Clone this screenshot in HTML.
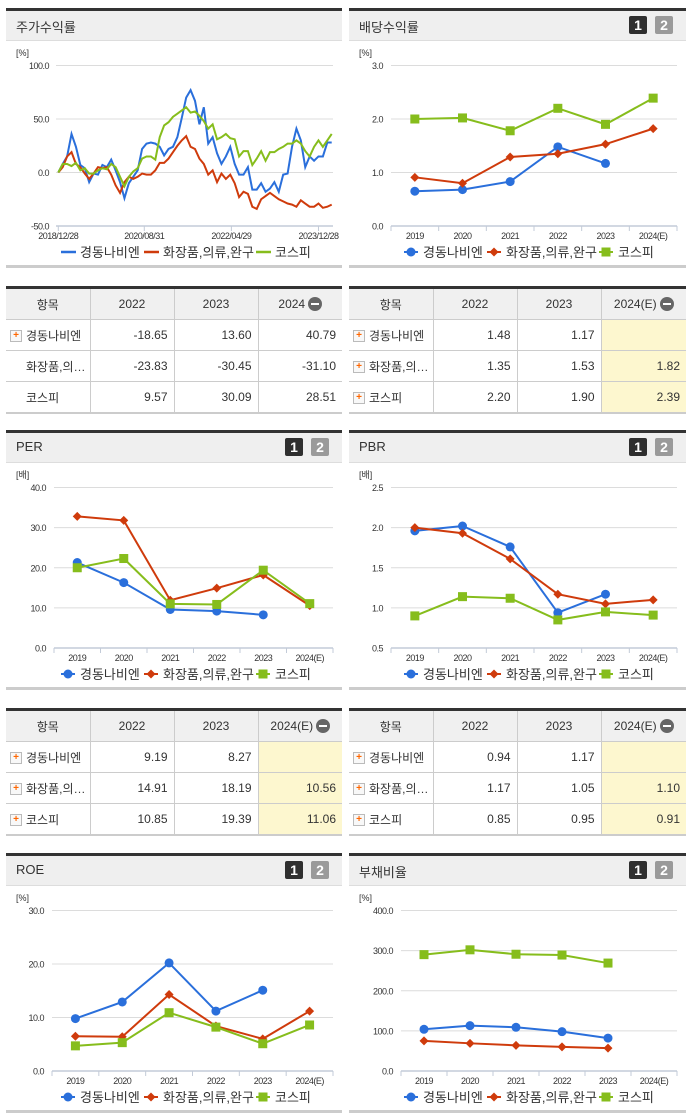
<!DOCTYPE html>
<html><head><meta charset="utf-8">
<style>
html,body{margin:0;padding:0;background:#fff;}
body{width:691px;height:1115px;position:relative;overflow:hidden;font-family:"Liberation Sans","Noto Sans CJK KR",sans-serif;color:#333;}
.panel{position:absolute;border-top:3px solid #333;box-sizing:border-box;}
.hdr{position:absolute;left:0;right:0;top:0;height:29px;background:#efefef;border-bottom:1px solid #ddd;}
.title{position:absolute;left:10px;top:6px;font-size:13px;color:#333;}
.badge{position:absolute;top:5px;width:18px;height:18px;color:#fff;font-weight:bold;font-size:14px;text-align:center;line-height:18px;border-radius:2px;}
.bline{position:absolute;left:0;right:0;height:3px;background:#ccc;}
.tbl{position:absolute;border-collapse:collapse;font-size:12px;table-layout:fixed;border-top:3px solid #333;border-bottom:2px solid #ccc;}
.tbl td{height:30px;border-right:1px solid #ccc;border-bottom:1px solid #ccc;padding:0 6px;text-align:right;white-space:nowrap;overflow:hidden;}
.tbl td:last-child{border-right:none;}
.tbl tr:last-child td{border-bottom:none;}
.tbl tr.h td{background:#f0f0f0;text-align:center;height:30px;}
.tbl td.n{text-align:left;padding-left:4px;}
.tbl td.y{background:#fdf7cf;}
.plus{display:inline-block;width:10px;height:10px;border:1px solid #bbb;background:#f8f8f8;color:#f60;font-size:10px;line-height:10px;text-align:center;font-weight:bold;vertical-align:middle;margin-right:4px;}
.minus{display:inline-block;width:14px;height:14px;border-radius:7px;background:#666;vertical-align:middle;position:relative;margin-left:3px;}
.minus:after{content:"";position:absolute;left:3px;top:6px;width:8px;height:2px;background:#fff;}
svg text{font-family:"Liberation Sans","Noto Sans CJK KR",sans-serif;}
</style></head><body>
<div id="root"></div>
<script>
// ---------- data ----------
const stockSeriesNames = ["경동나비엔","화장품,의류,완구","코스피"];
const stockTickLabels = ["2018/12/28","2020/08/31","2022/04/29","2023/12/28"];
const stockTickIndex = [0,19.5,39.25,59];
const stockBlue = [0,8,15,36,24,7,4,-9,-1,-2,7,5,12,2,-9,-24,-10,-4,2,22,27,28,27,24,16,22,24,33,51,70,77,67,45,61,27,33,18,8,15,24,8,-2,-2,5,-16,-16,-10,-18,-15,-9,-18,-2,-1,24,41,30,5,15,11,15,15,28,28];
const stockRed = [0,5,15,19,8,5,-1,-6,-1,5,4,5,-2,-12,-19,-9,-4,-6,-4,-1,-2,-2,2,9,9,13,19,25,30,34,24,22,13,8,-2,2,-9,-1,-6,-2,-10,-23,-18,-20,-32,-34,-25,-22,-19,-22,-25,-27,-29,-30,-32,-26,-29,-32,-32,-29,-33,-32,-30];
const stockGreen = [0,8,8,6,9,2,4,-1,-1,2,4,3,8,5,-4,-13,-4,1,4,13,15,15,12,33,44,47,52,55,58,61,56,57,53,48,41,45,31,33,36,32,31,15,20,20,7,13,20,11,19,19,22,24,27,27,30,27,20,15,24,30,24,30,36];
const years = ["2019","2020","2021","2022","2023","2024(E)"];
const divBlue = [0.65,0.68,0.83,1.48,1.17,null];
const divRed = [0.91,0.80,1.29,1.35,1.53,1.82];
const divGreen = [2.00,2.02,1.78,2.20,1.90,2.39];
const perBlue = [21.3,16.3,9.6,9.19,8.27,null];
const perRed = [32.8,31.8,11.9,14.91,18.19,10.56];
const perGreen = [20.0,22.3,11.0,10.85,19.39,11.06];
const pbrBlue = [1.96,2.02,1.76,0.94,1.17,null];
const pbrRed = [2.00,1.93,1.61,1.17,1.05,1.10];
const pbrGreen = [0.90,1.14,1.12,0.85,0.95,0.91];
const roeBlue = [9.8,12.9,20.2,11.2,15.1,null];
const roeRed = [6.5,6.4,14.3,8.4,6.0,11.2];
const roeGreen = [4.7,5.3,10.9,8.2,5.1,8.6];
const debtBlue = [104,113,109,98,82,null];
const debtRed = [75,69,64,60,57,null];
const debtGreen = [290,302,291,289,269,null];
const tblStock = [["경동나비엔","-18.65","13.60","40.79"],["화장품,의…","-23.83","-30.45","-31.10"],["코스피","9.57","30.09","28.51"]];
const tblDiv = [["경동나비엔","1.48","1.17",""],["화장품,의…","1.35","1.53","1.82"],["코스피","2.20","1.90","2.39"]];
const tblPer = [["경동나비엔","9.19","8.27",""],["화장품,의…","14.91","18.19","10.56"],["코스피","10.85","19.39","11.06"]];
const tblPbr = [["경동나비엔","0.94","1.17",""],["화장품,의…","1.17","1.05","1.10"],["코스피","0.85","0.95","0.91"]];

const COLORS = ["#2a6fdb","#cf3b0c","#86bd1c"];
const NS = "http://www.w3.org/2000/svg";
const root = document.getElementById('root');

function el(tag, attrs, parent){ const e=document.createElementNS(NS,tag); for(const k in attrs) e.setAttribute(k,attrs[k]); if(parent) parent.appendChild(e); return e; }

function panel(x,y,w,title,badges,slug){
  const p=document.createElement('div'); p.className='panel';
  
  
  p.style.left=x+'px'; p.style.top=y+'px'; p.style.width=w+'px'; p.style.height='262px';
  const h=document.createElement('div'); h.className='hdr';
  
  
  const t=document.createElement('div'); t.className='title'; t.textContent=title;
  
  
  h.appendChild(t);
  if(badges){
    const b1=document.createElement('div'); b1.className='badge'; b1.textContent='1'; b1.style.background='#2f2f2f'; b1.style.left=(w-57)+'px';
    
    
    const b2=document.createElement('div'); b2.className='badge'; b2.textContent='2'; b2.style.background='#9a9a9a'; b2.style.left=(w-31)+'px';
    
    
    h.appendChild(b1); h.appendChild(b2);
  }
  p.appendChild(h);
  const bl=document.createElement('div'); bl.className='bline'; bl.style.top='254px';
  
  
  p.appendChild(bl);
  root.appendChild(p);
  return p;
}

function marker(svg,i,cx,cy,slug){
  let m;
  if(i===0) m=el('circle',{cx:cx,cy:cy,r:4.5,fill:COLORS[0]},svg);
  else if(i===1) m=el('path',{d:`M${cx},${cy-4.5}L${cx+4.5},${cy}L${cx},${cy+4.5}L${cx-4.5},${cy}Z`,fill:COLORS[1]},svg);
  else m=el('rect',{x:cx-4.5,y:cy-4.5,width:9,height:9,fill:COLORS[2]},svg);
  
  
  return m;
}

function legend(svg,w,lineStyle,slug){
  const items=[{x:55,t:stockSeriesNames[0]},{x:138,t:stockSeriesNames[1]},{x:250,t:stockSeriesNames[2]}];
  items.forEach((it,i)=>{
    const g=el('g',{},svg);
    
    
    if(lineStyle){
      el('line',{x1:it.x,y1:241,x2:it.x+15,y2:241,stroke:COLORS[i],'stroke-width':2.5},g);
    } else {
      el('line',{x1:it.x,y1:241,x2:it.x+14,y2:241,stroke:COLORS[i],'stroke-width':2},g);
      marker(g,i,it.x+7,241,slug+'-legend-marker');
    }
    const tx=el('text',{x:it.x+19,y:246,'font-size':13,fill:'#333'},g); tx.textContent=it.t;
  });
}

function catChart(p,w,slug,unit,yMin,yMax,yStep,dec,plotL,series){
  const svg=el('svg',{width:w,height:255,style:'position:absolute;left:0;top:0'});
  
  
  p.appendChild(svg);
  const plotR=w-9, top=54.5, bot=215;
  const ys=v=>bot-(v-yMin)/(yMax-yMin)*(bot-top);
  const band=(plotR-plotL)/years.length;
  const xs=i=>plotL+band*(i+0.5);
  const u=el('text',{x:10,y:45,'font-size':9,fill:'#333'},svg); u.textContent=unit;
   
  for(let v=yMin; v<=yMax+1e-9; v+=yStep){
    const y=ys(v);
    if(v>yMin+1e-9){ const gl=el('line',{x1:plotL,y1:y,x2:plotR,y2:y,stroke:'#dcdcdc','stroke-width':1},svg);
        }
    const t=el('text',{x:plotL-8,y:y+3.5,'font-size':9,'text-anchor':'end',fill:'#333','letter-spacing':'-0.5'},svg); t.textContent=v.toFixed(dec);
     
  }
  const ax=el('line',{x1:plotL,y1:bot,x2:plotR,y2:bot,stroke:'#c3cbd8','stroke-width':1.5},svg);
   
  for(let i=0;i<=years.length;i++){ el('line',{x1:plotL+band*i,y1:bot,x2:plotL+band*i,y2:bot+5,stroke:'#c3cbd8'},svg); }
  years.forEach((yr,i)=>{ const t=el('text',{x:xs(i),y:228,'font-size':9,'text-anchor':'middle',fill:'#333','letter-spacing':'-0.5'},svg); t.textContent=yr;
      });
  series.forEach((arr,si)=>{
    const pts=[]; arr.forEach((v,i)=>{ if(v!==null) pts.push([xs(i),ys(v)]); });
    const pl=el('polyline',{points:pts.map(q=>q.join(',')).join(' '),fill:'none',stroke:COLORS[si],'stroke-width':2},svg);
     
    pts.forEach(q=>marker(svg,si,q[0],q[1],slug+'-point'));
  });
  legend(svg,w,false,slug);
}

function stockChart(p,w){
  const slug='stock-return';
  const svg=el('svg',{width:w,height:255,style:'position:absolute;left:0;top:0'});
  
  
  p.appendChild(svg);
  const plotL=50, plotR=327, top=54.5, bot=215, yMin=-50, yMax=100;
  const ys=v=>bot-(v-yMin)/(yMax-yMin)*(bot-top);
  const n=stockBlue.length, x0=52.3, x1=325.7;
  const xs=i=>x0+(x1-x0)*i/(n-1);
  const u=el('text',{x:10,y:45,'font-size':9,fill:'#333'},svg); u.textContent='[%]';
  for(let v=yMin; v<=yMax; v+=50){
    const y=ys(v);
    if(v>yMin){ const gl=el('line',{x1:plotL,y1:y,x2:plotR,y2:y,stroke:'#dcdcdc'},svg);
        }
    const t=el('text',{x:plotL-7,y:y+3.5,'font-size':9,'text-anchor':'end',fill:'#333','letter-spacing':'-0.5'},svg); t.textContent=v.toFixed(1);
     
  }
  el('line',{x1:plotL,y1:bot,x2:plotR,y2:bot,stroke:'#c3cbd8','stroke-width':1.5},svg);
  stockTickLabels.forEach((lb,k)=>{
    const x=xs(stockTickIndex[k]);
    el('line',{x1:x,y1:bot,x2:x,y2:bot+5,stroke:'#c3cbd8'},svg);
    const t=el('text',{x:x,y:228,'font-size':9,'text-anchor':'middle',fill:'#333','letter-spacing':'-0.5'},svg); t.textContent=lb;
     
  });
  [stockBlue,stockRed,stockGreen].forEach((arr,si)=>{
    const pl=el('polyline',{points:arr.map((v,i)=>xs(i)+','+ys(v)).join(' '),fill:'none',stroke:COLORS[si],'stroke-width':2},svg);
     
  });
  legend(svg,w,true,slug);
}

function table(x,y,w,slug,rows,lastHdr,yellow,allIcons){
  const t=document.createElement('table'); t.className='tbl';
  
  
  t.style.left=x+'px'; t.style.top=y+'px'; t.style.width=w+'px';
  const cw=Math.round(w/4);
  let html='<colgroup><col style="width:'+(cw)+'px"><col style="width:'+cw+'px"><col style="width:'+cw+'px"><col></colgroup>';
  html+='<tr class="h"><td>항목</td><td>2022</td><td>2023</td><td>'+lastHdr+'<span class="minus"></span></td></tr>';
  rows.forEach((r,ri)=>{
    const icon=(allIcons||ri===0)?'<span class="plus">+</span>':'<span style="display:inline-block;width:16px"></span>';
    html+='<tr><td class="n">'+icon+r[0]+'</td><td>'+r[1]+'</td><td>'+r[2]+'</td><td'+(yellow?' class="y"':'')+'>'+r[3]+'</td></tr>';
  });
  t.innerHTML=html;
  root.appendChild(t);
}

const LX=6, RX=349, LW=336, RW=337;
const r1=8, r2=430, r3=853;
const p1=panel(LX,r1,LW,'주가수익률',false,'stock-return'); stockChart(p1,LW);
const p2=panel(RX,r1,RW,'배당수익률',true,'dividend-yield'); catChart(p2,RW,'dividend-yield','[%]',0,3,1,1,42,[divBlue,divRed,divGreen]);
table(LX,r1+278,LW,'stock-return',tblStock,'2024',false,false);
table(RX,r1+278,RW,'dividend-yield',tblDiv,'2024(E)',true,true);
const p3=panel(LX,r2,LW,'PER',true,'per'); catChart(p3,LW,'per','[배]',0,40,10,1,48,[perBlue,perRed,perGreen]);
const p4=panel(RX,r2,RW,'PBR',true,'pbr'); catChart(p4,RW,'pbr','[배]',0.5,2.5,0.5,1,42,[pbrBlue,pbrRed,pbrGreen]);
table(LX,r2+278,LW,'per',tblPer,'2024(E)',true,true);
table(RX,r2+278,RW,'pbr',tblPbr,'2024(E)',true,true);
const p5=panel(LX,r3,LW,'ROE',true,'roe'); catChart(p5,LW,'roe','[%]',0,30,10,1,46,[roeBlue,roeRed,roeGreen]);
const p6=panel(RX,r3,RW,'부채비율',true,'debt-ratio'); catChart(p6,RW,'debt-ratio','[%]',0,400,100,1,52,[debtBlue,debtRed,debtGreen]);
</script>
</body></html>
